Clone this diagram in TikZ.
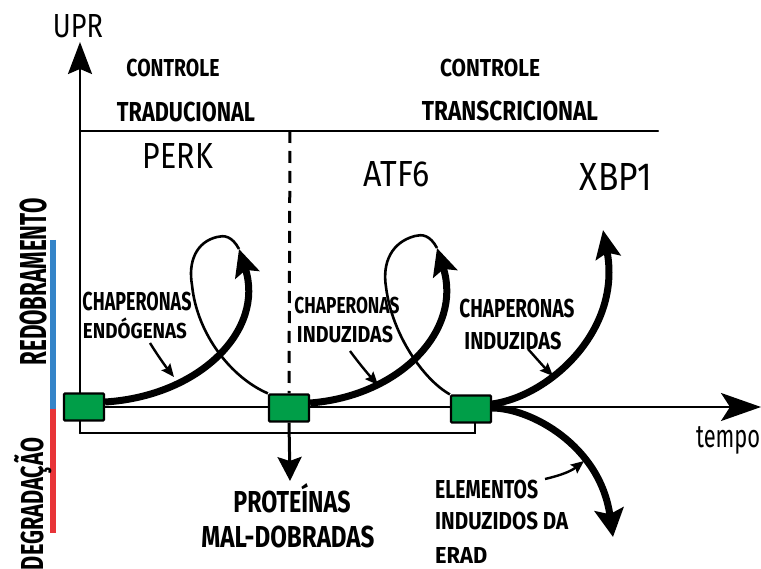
\documentclass[tikz,border=0pt]{standalone}
\usepackage{graphicx}
\usepackage{fontspec}
\setmainfont{Fira Sans}
\usetikzlibrary{arrows.meta}
\definecolor{boxgreen}{RGB}{0,158,72}
\definecolor{barblue}{RGB}{52,132,200}
\definecolor{barred}{RGB}{232,52,56}
\newcommand\fitt[3]{\resizebox{#1pt}{#2pt}{\rlap{\smash{#3}}\hphantom{#3}\vphantom{X}}}
\begin{document}
\begin{tikzpicture}[x=1pt,y=-1pt,
  lbl/.style={inner sep=0pt,font=\bfseries},
  lblr/.style={inner sep=0pt},
  axis/.style={line width=2.2pt,line cap=round},
  thick curve/.style={line width=7pt},
  thin curve/.style={line width=2.6pt},
  pointer/.style={line width=2.4pt,-{Stealth[length=13pt,width=11pt,inset=2pt]}},
  gbox/.style={draw=black,line width=2.2pt,fill=boxgreen,minimum width=40pt,minimum height=27pt,inner sep=0pt,rounded corners=1pt}]
\useasboundingbox (0,0) rectangle (761,569);
\fill[white] (0,0) rectangle (761,569);

% coordinates
\coordinate (yb) at (80,433);
\coordinate (yt) at (80,42);
\coordinate (tl) at (80,131);
\coordinate (tr) at (658,131);
\coordinate (x0) at (80,407);
\coordinate (xe) at (761,407);
\coordinate (dtop) at (290,131);

% left bars
\draw[barblue,line width=6.5pt] (53,240) -- (53,409);
\draw[barred,line width=6.5pt] (53,409) -- (53,533);

% axes and frame lines
\draw[axis,-{Stealth[length=32pt,width=24pt,inset=5pt]}] (yb) -- (yt);
\draw[axis] (tl) -- (tr);
\draw[axis,-{Stealth[length=40pt,width=28pt,inset=9pt]}] (x0) -- (xe);

% boxes
\node[gbox] (b1) at (84,407) {};
\node[gbox] (b2) at (289,408) {};
\node[gbox] (b3) at (471,409) {};

% baseline frame under boxes
\draw[axis] (yb) -- (475,433) -- (475,423);

% dashed divider
\draw[line width=3pt,dash pattern=on 12pt off 8pt] (dtop) -- (b2.north);

% down arrow from b2
\coordinate (pd) at (290,481);
\draw[line width=3pt,-{Stealth[length=24pt,width=24pt,inset=4pt]}] (b2.south) -- (pd);

% loop 1
\coordinate (t1) at (239,249);
\draw[thin curve] (t1) .. controls (232,236) and (224,235) .. (217,237)
  .. controls (196,242) and (188,262) .. (192,285)
  .. controls (197,335) and (232,378) .. (b2.north west);
\draw[thick curve,-{Stealth[length=27pt,width=25pt,inset=5pt]}] (b1.east) ++(0,-5) .. controls (200,396) and (265,330) .. (t1);

% loop 2
\coordinate (t2) at (437,248);
\draw[thin curve] (t2) .. controls (430,235) and (422,234) .. (415,236)
  .. controls (392,242) and (382,262) .. (386,287)
  .. controls (392,335) and (424,380) .. (b3.north west);
\draw[thick curve,-{Stealth[length=27pt,width=25pt,inset=5pt]}] (b2.east) ++(0,-5) .. controls (400,396) and (463,330) .. (t2);

% XBP1 branch
\coordinate (t3) at (603,230);
\draw[thick curve,-{Stealth[length=28pt,width=25pt,inset=5pt]}] (b3.east) ++(0,-5) .. controls (550,396) and (622,330) .. (t3);

% ERAD branch
\coordinate (t4) at (613,537);
\draw[thick curve,-{Stealth[length=28pt,width=29pt,inset=5pt]}] (b3.east) ++(0,-1) .. controls (530,408) and (600,445) .. (t4);

% pointers
\coordinate (p1s) at (150,343); \coordinate (p1e) at (174,377);
\draw[pointer] (p1s) .. controls (158,356) and (166,367) .. (p1e);
\coordinate (p2s) at (350,351); \coordinate (p2e) at (378,385);
\draw[pointer] (p2s) .. controls (358,362) and (368,374) .. (p2e);
\coordinate (p3s) at (528,349); \coordinate (p3e) at (553,376);
\draw[pointer] (p3s) .. controls (536,358) and (544,367) .. (p3e);
\coordinate (p4s) at (545,479); \coordinate (p4e) at (584,461);
\draw[pointer] (p4s) .. controls (558,476) and (570,472) .. (p4e);

% texts
\node[lblr] (upr) at (78,26) {\fitt{50}{23}{UPR}};
\node[lbl] (c1) at (173,68) {\fitt{93}{17}{CONTROLE}};
\node[lbl] (tr1) at (186,112) {\fitt{138}{19}{TRADUCIONAL}};
\node[lbl] (c2) at (490,68) {\fitt{100}{17}{CONTROLE}};
\node[lbl] (tr2) at (510,111) {\fitt{176}{19}{TRANSCRICIONAL}};
\node[lblr] (perk) at (178,156) {\fitt{70}{25}{PERK}};
\node[lblr] (atf) at (397,174) {\fitt{66}{25}{ATF6}};
\node[lblr] (xbp) at (616,177) {\fitt{72}{27}{XBP1}};
\node[lbl] (ch1) at (137,302) {\fitt{109}{18}{CHAPERONAS}};
\node[lbl] (en1) at (135,331) {\fitt{104}{15}{ENDÓGENAS}};
\node[lbl] (ch2) at (347,306) {\fitt{105}{16}{CHAPERONAS}};
\node[lbl] (in2) at (345,335) {\fitt{96}{16}{INDUZIDAS}};
\node[lbl] (ch3) at (517,309) {\fitt{115}{18}{CHAPERONAS}};
\node[lbl] (in3) at (513,341) {\fitt{97}{17}{INDUZIDAS}};
\node[lbl] (pr) at (292,502) {\fitt{117}{21}{PROTEÍNAS}};
\node[lbl] (md) at (288,537) {\fitt{173}{21}{MAL-DOBRADAS}};
\node[lbl,anchor=west] (el) at (435,489) {\fitt{103}{18}{ELEMENTOS}};
\node[lbl,anchor=west] (ind) at (435,521) {\fitt{133}{17}{INDUZIDOS DA}};
\node[lbl,anchor=west] (er) at (435,555) {\fitt{52}{16}{ERAD}};
\node[lbl,rotate=90] (red) at (33,282) {\fitt{167}{26}{REDOBRAMENTO}};
\node[lbl,rotate=90] (deg) at (32,504) {\fitt{132}{22}{DEGRADAÇÃO}};
\node[inner sep=0pt,anchor=base west] (tempo) at (696,448) {\resizebox{64pt}{21pt}{tempo}};
\end{tikzpicture}
\end{document}
